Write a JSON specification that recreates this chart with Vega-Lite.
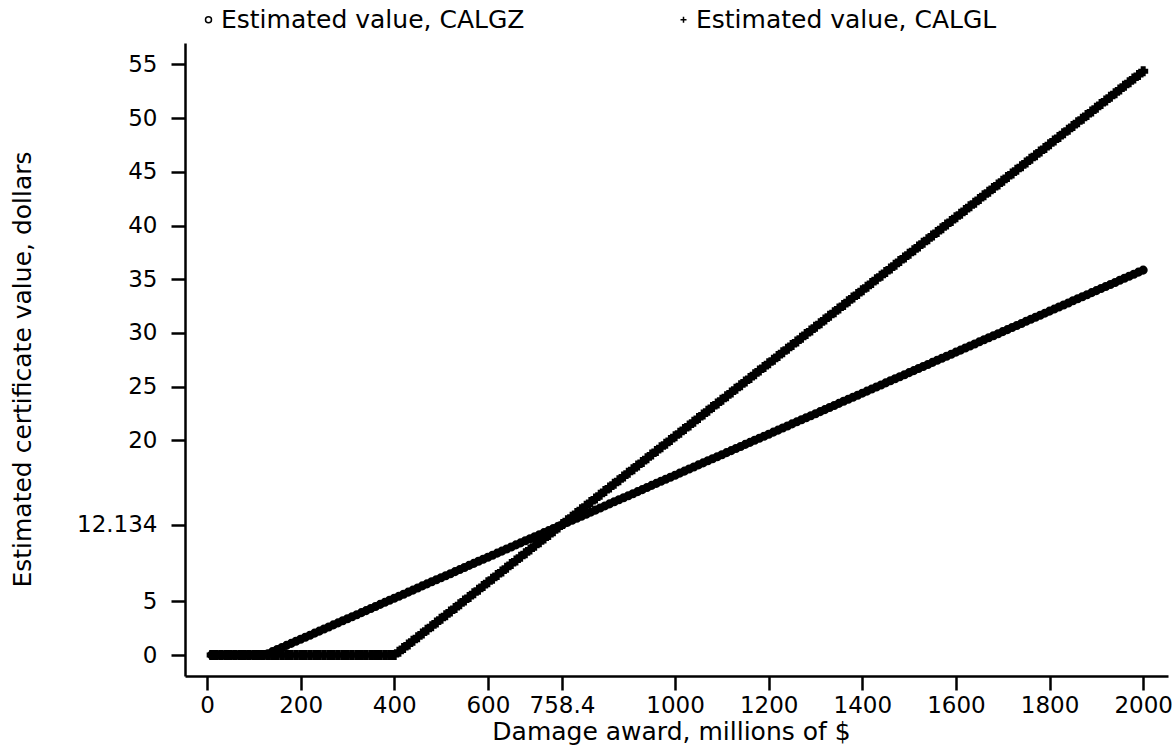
{
  "$schema": "https://vega.github.io/schema/vega-lite/v6.json",
  "width": 983,
  "height": 633,
  "autosize": {"type": "none"},
  "padding": {"left": 185, "top": 43, "right": 6, "bottom": 70},
  "background": "white",
  "config": {"view": {"stroke": null}, "font": "DejaVu Sans"},
  "data": {"values": [
    {"x":10,"z":0,"l":0},{"x":20,"z":0,"l":0},{"x":30,"z":0,"l":0},{"x":40,"z":0,"l":0},{"x":50,"z":0,"l":0},{"x":60,"z":0,"l":0},{"x":70,"z":0,"l":0},{"x":80,"z":0,"l":0},{"x":90,"z":0,"l":0},{"x":100,"z":0,"l":0},{"x":110,"z":0,"l":0},{"x":120,"z":0,"l":0},
    {"x":130,"z":0.13,"l":0},{"x":140,"z":0.32,"l":0},{"x":150,"z":0.52,"l":0},{"x":160,"z":0.71,"l":0},{"x":170,"z":0.9,"l":0},{"x":180,"z":1.09,"l":0},{"x":190,"z":1.28,"l":0},{"x":200,"z":1.47,"l":0},
    {"x":210,"z":1.66,"l":0},{"x":220,"z":1.85,"l":0},{"x":230,"z":2.04,"l":0},{"x":240,"z":2.23,"l":0},{"x":250,"z":2.43,"l":0},{"x":260,"z":2.62,"l":0},{"x":270,"z":2.81,"l":0},{"x":280,"z":3,"l":0},{"x":290,"z":3.19,"l":0},{"x":300,"z":3.38,"l":0},
    {"x":310,"z":3.57,"l":0},{"x":320,"z":3.76,"l":0},{"x":330,"z":3.95,"l":0},{"x":340,"z":4.14,"l":0},{"x":350,"z":4.34,"l":0},{"x":360,"z":4.53,"l":0},{"x":370,"z":4.72,"l":0},{"x":380,"z":4.91,"l":0},{"x":390,"z":5.1,"l":0},{"x":400,"z":5.29,"l":0},
    {"x":410,"z":5.48,"l":0.31},{"x":420,"z":5.67,"l":0.65},{"x":430,"z":5.86,"l":0.99},{"x":440,"z":6.05,"l":1.33},{"x":450,"z":6.25,"l":1.67},{"x":460,"z":6.44,"l":2.01},{"x":470,"z":6.63,"l":2.35},{"x":480,"z":6.82,"l":2.69},{"x":490,"z":7.01,"l":3.03},{"x":500,"z":7.2,"l":3.37},
    {"x":510,"z":7.39,"l":3.71},{"x":520,"z":7.58,"l":4.05},{"x":530,"z":7.77,"l":4.39},{"x":540,"z":7.96,"l":4.73},{"x":550,"z":8.16,"l":5.07},{"x":560,"z":8.35,"l":5.41},{"x":570,"z":8.54,"l":5.75},{"x":580,"z":8.73,"l":6.09},{"x":590,"z":8.92,"l":6.43},{"x":600,"z":9.11,"l":6.77},
    {"x":610,"z":9.3,"l":7.11},{"x":620,"z":9.49,"l":7.45},{"x":630,"z":9.68,"l":7.79},{"x":640,"z":9.87,"l":8.13},{"x":650,"z":10.07,"l":8.47},{"x":660,"z":10.26,"l":8.81},{"x":670,"z":10.45,"l":9.15},{"x":680,"z":10.64,"l":9.49},{"x":690,"z":10.83,"l":9.83},{"x":700,"z":11.02,"l":10.17},
    {"x":710,"z":11.21,"l":10.51},{"x":720,"z":11.4,"l":10.85},{"x":730,"z":11.59,"l":11.19},{"x":740,"z":11.78,"l":11.53},{"x":750,"z":11.98,"l":11.87},{"x":760,"z":12.17,"l":12.21},{"x":770,"z":12.36,"l":12.55},{"x":780,"z":12.55,"l":12.89},{"x":790,"z":12.74,"l":13.23},{"x":800,"z":12.93,"l":13.57},
    {"x":810,"z":13.12,"l":13.91},{"x":820,"z":13.31,"l":14.25},{"x":830,"z":13.5,"l":14.59},{"x":840,"z":13.69,"l":14.93},{"x":850,"z":13.89,"l":15.27},{"x":860,"z":14.08,"l":15.61},{"x":870,"z":14.27,"l":15.95},{"x":880,"z":14.46,"l":16.29},{"x":890,"z":14.65,"l":16.63},{"x":900,"z":14.84,"l":16.97},
    {"x":910,"z":15.03,"l":17.31},{"x":920,"z":15.22,"l":17.65},{"x":930,"z":15.41,"l":17.99},{"x":940,"z":15.6,"l":18.33},{"x":950,"z":15.8,"l":18.67},{"x":960,"z":15.99,"l":19.01},{"x":970,"z":16.18,"l":19.35},{"x":980,"z":16.37,"l":19.69},{"x":990,"z":16.56,"l":20.03},{"x":1000,"z":16.75,"l":20.37},
    {"x":1010,"z":16.94,"l":20.71},{"x":1020,"z":17.13,"l":21.05},{"x":1030,"z":17.32,"l":21.39},{"x":1040,"z":17.51,"l":21.73},{"x":1050,"z":17.71,"l":22.07},{"x":1060,"z":17.9,"l":22.41},{"x":1070,"z":18.09,"l":22.75},{"x":1080,"z":18.28,"l":23.09},{"x":1090,"z":18.47,"l":23.43},{"x":1100,"z":18.66,"l":23.77},
    {"x":1110,"z":18.85,"l":24.11},{"x":1120,"z":19.04,"l":24.45},{"x":1130,"z":19.23,"l":24.79},{"x":1140,"z":19.42,"l":25.13},{"x":1150,"z":19.62,"l":25.47},{"x":1160,"z":19.81,"l":25.81},{"x":1170,"z":20,"l":26.15},{"x":1180,"z":20.19,"l":26.49},{"x":1190,"z":20.38,"l":26.83},{"x":1200,"z":20.57,"l":27.17},
    {"x":1210,"z":20.76,"l":27.51},{"x":1220,"z":20.95,"l":27.85},{"x":1230,"z":21.14,"l":28.19},{"x":1240,"z":21.33,"l":28.53},{"x":1250,"z":21.53,"l":28.87},{"x":1260,"z":21.72,"l":29.21},{"x":1270,"z":21.91,"l":29.55},{"x":1280,"z":22.1,"l":29.89},{"x":1290,"z":22.29,"l":30.23},{"x":1300,"z":22.48,"l":30.57},
    {"x":1310,"z":22.67,"l":30.91},{"x":1320,"z":22.86,"l":31.25},{"x":1330,"z":23.05,"l":31.59},{"x":1340,"z":23.24,"l":31.93},{"x":1350,"z":23.44,"l":32.27},{"x":1360,"z":23.63,"l":32.61},{"x":1370,"z":23.82,"l":32.95},{"x":1380,"z":24.01,"l":33.29},{"x":1390,"z":24.2,"l":33.63},{"x":1400,"z":24.39,"l":33.97},
    {"x":1410,"z":24.58,"l":34.31},{"x":1420,"z":24.77,"l":34.65},{"x":1430,"z":24.96,"l":34.99},{"x":1440,"z":25.15,"l":35.33},{"x":1450,"z":25.35,"l":35.67},{"x":1460,"z":25.54,"l":36.01},{"x":1470,"z":25.73,"l":36.35},{"x":1480,"z":25.92,"l":36.69},{"x":1490,"z":26.11,"l":37.03},{"x":1500,"z":26.3,"l":37.37},
    {"x":1510,"z":26.49,"l":37.71},{"x":1520,"z":26.68,"l":38.05},{"x":1530,"z":26.87,"l":38.39},{"x":1540,"z":27.06,"l":38.73},{"x":1550,"z":27.26,"l":39.07},{"x":1560,"z":27.45,"l":39.41},{"x":1570,"z":27.64,"l":39.75},{"x":1580,"z":27.83,"l":40.09},{"x":1590,"z":28.02,"l":40.43},{"x":1600,"z":28.21,"l":40.77},
    {"x":1610,"z":28.4,"l":41.11},{"x":1620,"z":28.59,"l":41.45},{"x":1630,"z":28.78,"l":41.79},{"x":1640,"z":28.97,"l":42.13},{"x":1650,"z":29.17,"l":42.47},{"x":1660,"z":29.36,"l":42.81},{"x":1670,"z":29.55,"l":43.15},{"x":1680,"z":29.74,"l":43.49},{"x":1690,"z":29.93,"l":43.83},{"x":1700,"z":30.12,"l":44.17},
    {"x":1710,"z":30.31,"l":44.51},{"x":1720,"z":30.5,"l":44.85},{"x":1730,"z":30.69,"l":45.19},{"x":1740,"z":30.88,"l":45.53},{"x":1750,"z":31.08,"l":45.87},{"x":1760,"z":31.27,"l":46.21},{"x":1770,"z":31.46,"l":46.55},{"x":1780,"z":31.65,"l":46.89},{"x":1790,"z":31.84,"l":47.23},{"x":1800,"z":32.03,"l":47.57},
    {"x":1810,"z":32.22,"l":47.91},{"x":1820,"z":32.41,"l":48.25},{"x":1830,"z":32.6,"l":48.59},{"x":1840,"z":32.79,"l":48.93},{"x":1850,"z":32.99,"l":49.27},{"x":1860,"z":33.18,"l":49.61},{"x":1870,"z":33.37,"l":49.95},{"x":1880,"z":33.56,"l":50.29},{"x":1890,"z":33.75,"l":50.63},{"x":1900,"z":33.94,"l":50.97},
    {"x":1910,"z":34.13,"l":51.31},{"x":1920,"z":34.32,"l":51.65},{"x":1930,"z":34.51,"l":51.99},{"x":1940,"z":34.7,"l":52.33},{"x":1950,"z":34.9,"l":52.67},{"x":1960,"z":35.09,"l":53.01},{"x":1970,"z":35.28,"l":53.35},{"x":1980,"z":35.47,"l":53.69},{"x":1990,"z":35.66,"l":54.03},{"x":2000,"z":35.85,"l":54.37}
  ]},
  "transform": [{"fold": ["z", "l"], "as": ["series", "value"]}],
  "encoding": {
    "x": {
      "field": "x", "type": "quantitative",
      "scale": {"domain": [-47, 2053], "nice": false, "zero": false},
      "axis": {
        "values": [0, 200, 400, 600, 758.4, 1000, 1200, 1400, 1600, 1800, 2000],
        "labelExpr": "'' + datum.value", "grid": false,
        "title": "Damage award, millions of $",
        "domainColor": "black", "domainWidth": 2.5, "tickColor": "black", "tickWidth": 2.5, "tickSize": 14,
        "labelColor": "black", "labelFontSize": 23, "labelPadding": 4, "labelFlush": false, "labelOverlap": false,
        "titleColor": "black", "titleFontSize": 25, "titleFontWeight": "normal",
        "titleX": 486, "titleY": 63, "titleBaseline": "alphabetic", "titleAlign": "center"
      }
    },
    "y": {
      "field": "value", "type": "quantitative",
      "scale": {"domain": [-1.95, 57], "nice": false, "zero": false},
      "axis": {
        "values": [0, 5, 12.134, 20, 25, 30, 35, 40, 45, 50, 55],
        "labelExpr": "'' + datum.value", "grid": false,
        "title": "Estimated certificate value, dollars",
        "domainColor": "black", "domainWidth": 2.5, "tickColor": "black", "tickWidth": 2.5, "tickSize": 14,
        "labelColor": "black", "labelFontSize": 23, "labelPadding": 14, "labelFlush": false, "labelOverlap": false,
        "titleColor": "black", "titleFontSize": 25, "titleFontWeight": "normal",
        "titleX": -163, "titleY": 326, "titleBaseline": "middle", "titleAlign": "center", "titleAngle": -90
      }
    },
    "color": {
      "field": "series", "type": "nominal",
      "scale": {"domain": ["z", "l"], "range": ["black", "black"]}
    },
    "shape": {
      "field": "series", "type": "nominal",
      "scale": {"domain": ["z", "l"], "range": ["circle", "M-1,0H1M0,-1V1"]},
      "legend": {
        "orient": "none", "legendX": 11, "legendY": -36, "direction": "horizontal",
        "title": null, "padding": 0,
        "labelExpr": "datum.value == 'z' ? 'Estimated value, CALGZ' : 'Estimated value, CALGL'",
        "labelFont": "DejaVu Sans", "labelFontSize": 25, "labelColor": "black", "labelLimit": 400,
        "labelOffset": 0, "symbolSize": 36, "symbolFillColor": "white", "symbolStrokeColor": "black",
        "symbolStrokeWidth": 1.5, "columnPadding": 146
      }
    }
  },
  "layer": [
    {
      "transform": [{"filter": "datum.series == 'z'"}],
      "mark": {"type": "point", "filled": false, "strokeWidth": 4.6, "opacity": 1, "size": 20}
    },
    {
      "transform": [{"filter": "datum.series == 'l'"}],
      "mark": {"type": "point", "filled": false, "strokeWidth": 5, "opacity": 1, "size": 100}
    }
  ]
}
